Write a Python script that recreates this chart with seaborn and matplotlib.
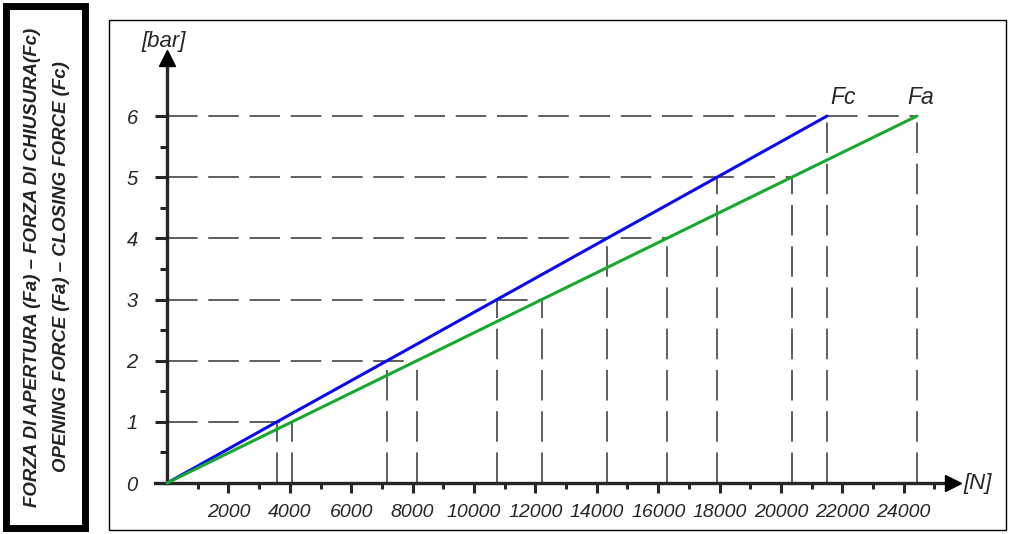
import numpy as np
import pandas as pd
import matplotlib
matplotlib.use("Agg")
import matplotlib.pyplot as plt
import seaborn as sns
from matplotlib.patches import Rectangle
from matplotlib.ticker import FixedLocator

# ------------------------------
# Data
# ------------------------------
pressure_bar = [0, 1, 2, 3, 4, 5, 6]
closing_force_n = [0, 3580, 7170, 10750, 14330, 17920, 21500]   # Fc
opening_force_n = [0, 4070, 8140, 12210, 16280, 20350, 24430]   # Fa
x_tick_values = [2000, 4000, 6000, 8000, 10000, 12000, 14000,
                 16000, 18000, 20000, 22000, 24000]
y_tick_values = [0, 1, 2, 3, 4, 5, 6]
side_title_it = "FORZA DI APERTURA (Fa) – FORZA DI CHIUSURA(Fc)"
side_title_en = "OPENING FORCE (Fa) – CLOSING FORCE (Fc)"

df = pd.DataFrame({
    "bar": pressure_bar * 2,
    "force": closing_force_n + opening_force_n,
    "curve": ["Fc"] * 7 + ["Fa"] * 7,
})

sns.set_style("white")
plt.rcParams["font.family"] = ["Liberation Sans", "DejaVu Sans"]

W, H = 1014, 534
fig = plt.figure(figsize=(W / 100, H / 100), dpi=100)

# outer frames drawn in figure coords
fig.patches.append(Rectangle((6 / W, 6 / H), 79 / W, 522 / H, transform=fig.transFigure,
                             fill=False, edgecolor="black", linewidth=5))
fig.patches.append(Rectangle((109 / W, 4 / H), 897 / W, 510 / H, transform=fig.transFigure,
                             fill=False, edgecolor="black", linewidth=1))

fig.text(33 / W, 0.5, side_title_it, rotation=90, ha="center", va="center",
         fontsize=13.4, style="italic", fontweight="bold", color="#222222")
fig.text(62 / W, 0.5, side_title_en, rotation=90, ha="center", va="center",
         fontsize=13.4, style="italic", fontweight="bold", color="#222222")

ax = fig.add_axes([109 / W, 4 / H, 897 / W, 510 / H])
ax.set_facecolor("white")
ax.patch.set_alpha(0)
ax.set_xlim(-1890, 27330)
ax.set_ylim(-0.768, 7.57)

# dashed guide lines
guide = dict(color="#333333", linewidth=1.1, dashes=(20, 7), zorder=1)
for k, fc, fa in zip(pressure_bar[1:], closing_force_n[1:], opening_force_n[1:]):
    ax.plot([0, fa], [k, k], **guide)
    ax.plot([fc, fc], [0, k], **guide)
    ax.plot([fa, fa], [0, k], **guide)

sns.lineplot(data=df, x="force", y="bar", hue="curve",
             palette={"Fc": "#0a0af0", "Fa": "#18a830"},
             linewidth=2.2, legend=False, ax=ax, zorder=3)

ax.text(closing_force_n[-1] + 100, 6.12, "Fc", fontsize=16.5, style="italic",
        ha="left", va="bottom")
ax.text(opening_force_n[-1] - 300, 6.12, "Fa", fontsize=16.5, style="italic",
        ha="left", va="bottom")

# axes with arrows
for side in ["top", "right"]:
    ax.spines[side].set_visible(False)
ax.spines["left"].set_position(("data", 0))
ax.spines["bottom"].set_position(("data", 0))
ax.spines["left"].set_bounds(0, 6.9)
ax.spines["bottom"].set_bounds(-390, 25500)
ax.spines["left"].set_linewidth(2.4)
ax.spines["bottom"].set_linewidth(2.4)
ax.plot([0], [6.95], marker="^", markersize=12, color="black", clip_on=False, zorder=5)
ax.plot([25600], [0], marker=">", markersize=12, color="black", clip_on=False, zorder=5)

ax.xaxis.set_major_locator(FixedLocator(x_tick_values))
ax.xaxis.set_minor_locator(FixedLocator(np.arange(1000, 26000, 2000)))
ax.yaxis.set_major_locator(FixedLocator(y_tick_values))
ax.yaxis.set_minor_locator(FixedLocator(np.arange(0.5, 6, 1.0)))
ax.set_xticklabels([str(v) for v in x_tick_values])
ax.set_yticklabels([str(v) for v in y_tick_values])
ax.tick_params(axis="x", which="major", direction="out", length=7, width=2.2,
               pad=8, labelsize=14, bottom=True)
ax.tick_params(axis="x", which="minor", direction="out", length=4, width=2.2, bottom=True)
ax.tick_params(axis="y", which="major", direction="out", length=9, width=2.2,
               pad=12, labelsize=14.5, left=True)
ax.tick_params(axis="y", which="minor", direction="out", length=5, width=2.2, left=True)
for lab in ax.get_xticklabels() + ax.get_yticklabels():
    lab.set_style("italic")
ax.set_xlabel("")
ax.set_ylabel("")

ax.text(-100, 7.05, "[bar]", fontsize=16, style="italic", ha="center", va="bottom")
ax.text(25950, 0, "[N]", fontsize=16, style="italic", ha="left", va="center")

fig.savefig("out.png", dpi=100)
